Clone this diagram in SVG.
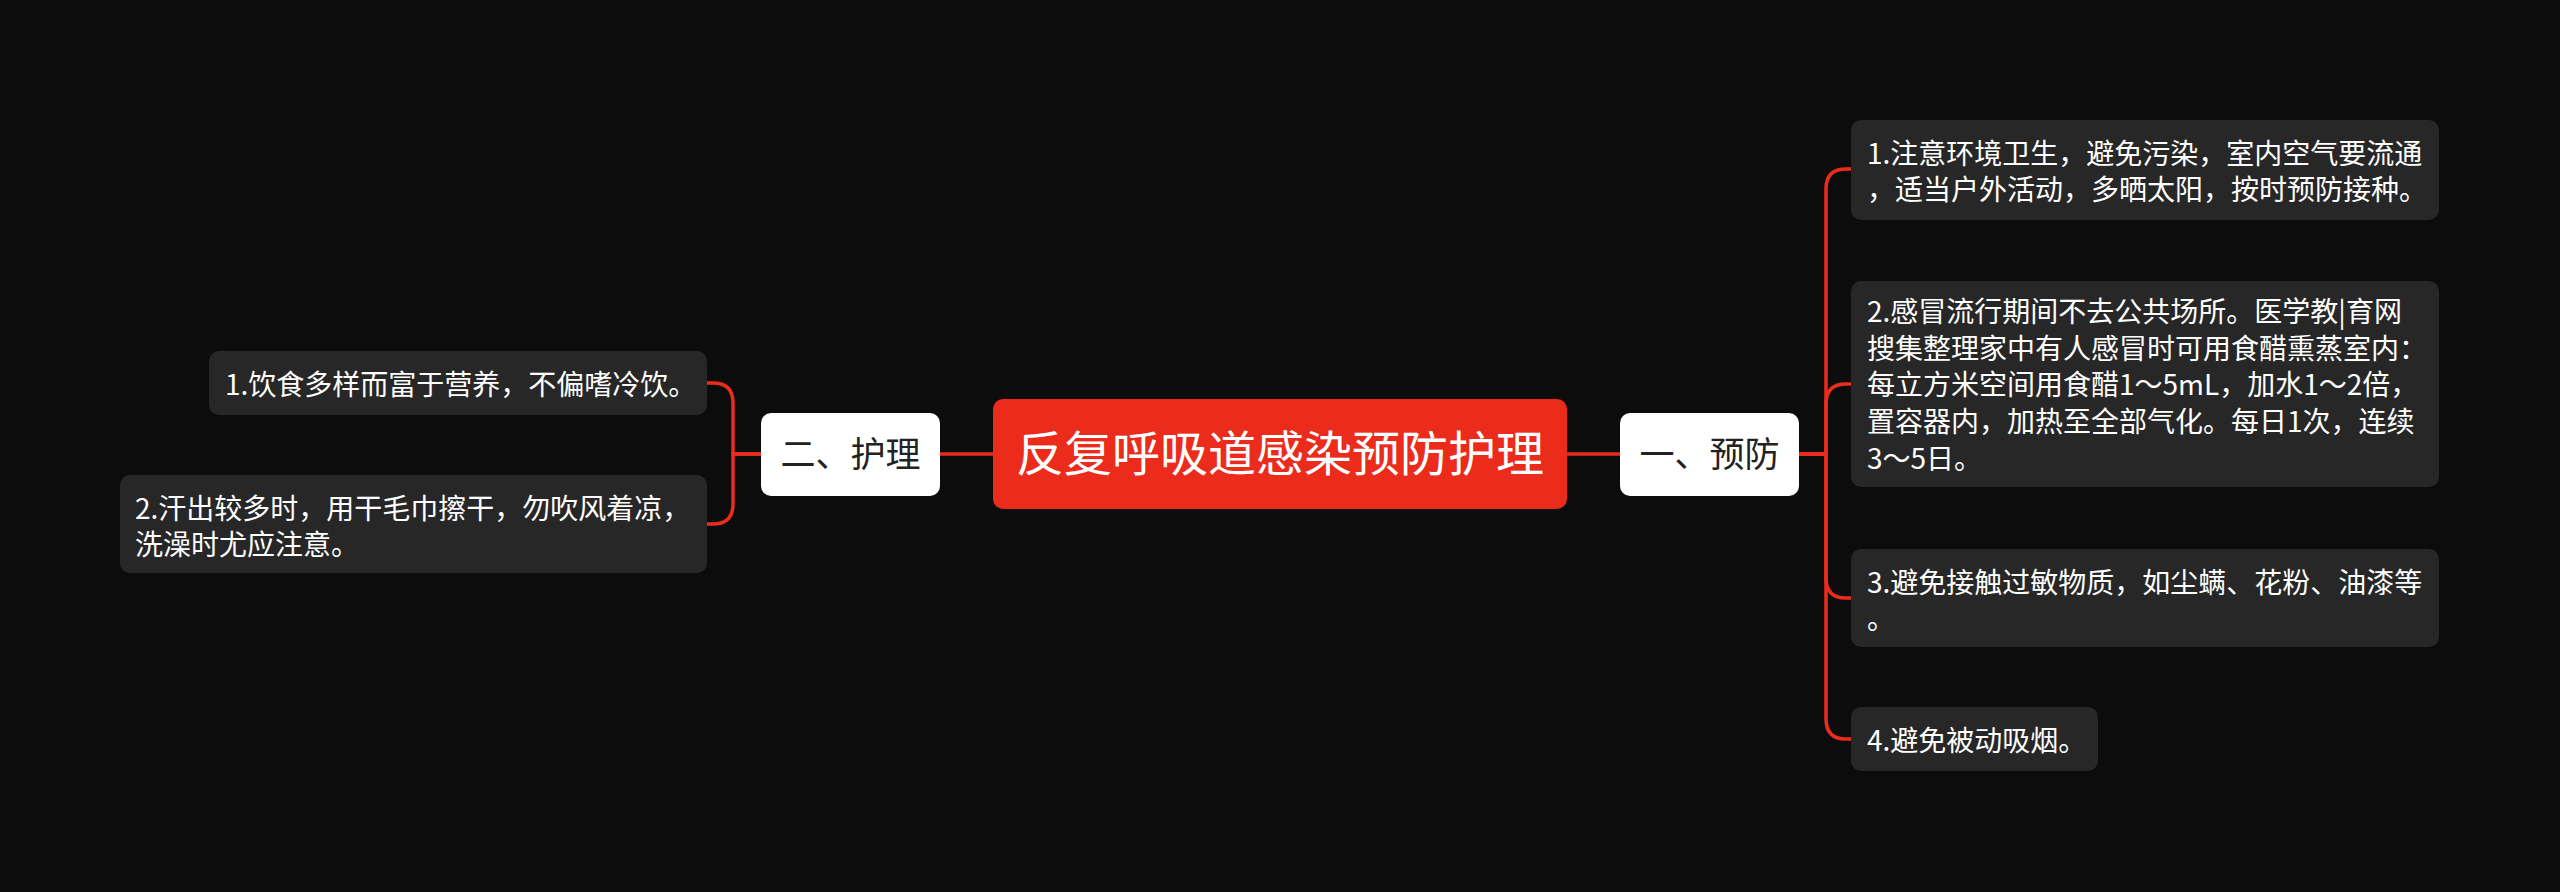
<svg xmlns="http://www.w3.org/2000/svg" width="2560" height="892" viewBox="0 0 2560 892">
<style>
.bg{fill:#0c0c0c}
.leaf{fill:#272727}
.white{fill:#ffffff}
.root{fill:#eb2c1c}
.t{font-family:"Noto Sans CJK SC","Noto Sans CJK TC",sans-serif}
.lt{font-size:28px;fill:#ffffff}
.st{font-size:35px;fill:#222222}
.rt{font-size:48px;fill:#ffffff}
.c{fill:none;stroke:#eb2c1c;stroke-width:3.5}
</style>
<rect class="bg" x="0" y="0" width="2560" height="892"/>
<g id="connectors">
<path class="c" d="M1567,454 H1620"/>
<path class="c" d="M940,454 H993"/>
<path class="c" d="M1799,454 H1826 V189 Q1826,169 1846,169 H1851"/>
<path class="c" d="M1799,454 H1826 V404 Q1826,384 1846,384 H1851"/>
<path class="c" d="M1799,454 H1826 V578 Q1826,598 1846,598 H1851"/>
<path class="c" d="M1799,454 H1826 V719 Q1826,739 1846,739 H1851"/>
<path class="c" d="M761,454 H733 V403 Q733,383 713,383 H707"/>
<path class="c" d="M761,454 H733 V504 Q733,524 713,524 H707"/>
</g>
<g id="root">
<rect class="root" x="993" y="399" width="574" height="110" rx="10"/>
<text class="t rt" x="1280" y="471" text-anchor="middle">反复呼吸道感染预防护理</text>
</g>
<g id="branch-prevent">
<rect class="white" x="1620" y="413" width="179" height="83" rx="10"/>
<text class="t st" x="1709.5" y="467" text-anchor="middle">一、预防</text>
</g>
<g id="branch-care">
<rect class="white" x="761" y="413" width="179" height="83" rx="10"/>
<text class="t st" x="850.5" y="467" text-anchor="middle">二、护理</text>
</g>
<g id="prevent-1">
<rect class="leaf" x="1851" y="120" width="588" height="100" rx="10"/>
<text class="t lt" x="1867" y="163.6">1.注意环境卫生，避免污染，室内空气要流通</text>
<text class="t lt" x="1867" y="200.4">，适当户外活动，多晒太阳，按时预防接种。</text>
</g>
<g id="prevent-2">
<rect class="leaf" x="1851" y="281" width="588" height="206" rx="10"/>
<text class="t lt" x="1867" y="322">2.感冒流行期间不去公共场所。医学教|育网</text>
<text class="t lt" x="1867" y="358.7">搜集整理家中有人感冒时可用食醋熏蒸室内：</text>
<text class="t lt" x="1867" y="395.4">每立方米空间用食醋1～5mL，加水1～2倍，</text>
<text class="t lt" x="1867" y="432.1">置容器内，加热至全部气化。每日1次，连续</text>
<text class="t lt" x="1867" y="468.8">3～5日。</text>
</g>
<g id="prevent-3">
<rect class="leaf" x="1851" y="549" width="588" height="98" rx="10"/>
<text class="t lt" x="1867" y="592.6">3.避免接触过敏物质，如尘螨、花粉、油漆等</text>
<text class="t lt" x="1867" y="629.4">。</text>
</g>
<g id="prevent-4">
<rect class="leaf" x="1851" y="707" width="247" height="64" rx="10"/>
<text class="t lt" x="1867" y="751">4.避免被动吸烟。</text>
</g>
<g id="care-1">
<rect class="leaf" x="209" y="351" width="498" height="64" rx="10"/>
<text class="t lt" x="225" y="395">1.饮食多样而富于营养，不偏嗜冷饮。</text>
</g>
<g id="care-2">
<rect class="leaf" x="120" y="475" width="587" height="98" rx="10"/>
<text class="t lt" x="135" y="518.6">2.汗出较多时，用干毛巾擦干，勿吹风着凉，</text>
<text class="t lt" x="135" y="555.4">洗澡时尤应注意。</text>
</g>
</svg>
